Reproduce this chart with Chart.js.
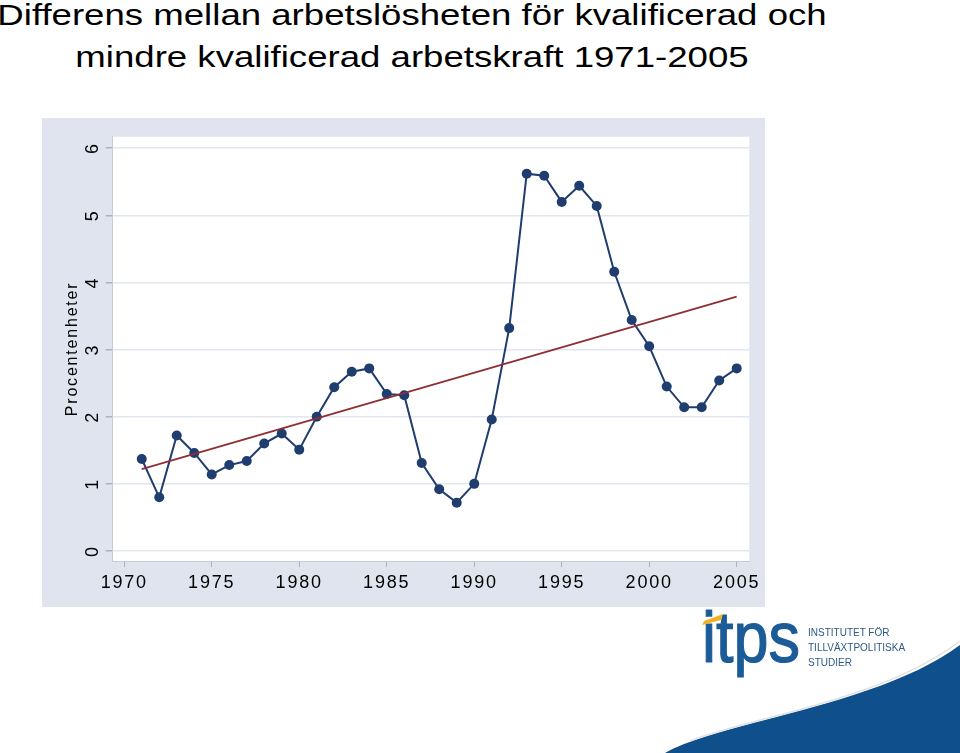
<!DOCTYPE html>
<html>
<head>
<meta charset="utf-8">
<script src="https://cdn.jsdelivr.net/npm/chart.js@4/dist/chart.umd.min.js"></script>
<style>
  html, body { margin: 0; padding: 0; background: #fff; }
  body { width: 960px; height: 753px; position: relative; overflow: hidden; font-family: 'Liberation Sans', Arial, sans-serif; }
  .title-line { position: absolute; left: 0; width: 824px; text-align: center; font-size: 30px; line-height: 36px; color: #000; white-space: nowrap; transform: scaleX(1.22); transform-origin: 412px 0; }
  #panel { position: absolute; left: 42px; top: 118px; width: 723px; height: 489px; }
  #logo { position: absolute; left: 0; top: 0; }
</style>
</head>
<body>
<div class="title-line" style="top:-3px">Differens mellan arbetslösheten för kvalificerad och</div>
<div class="title-line" style="top:39px">mindre kvalificerad arbetskraft 1971-2005</div>

<div id="panel"><canvas id="diffChart"></canvas></div>

<svg id="logo" width="960" height="753">
  <path d="M665 753 C720 722, 880 705, 960 645 L960 753 Z" fill="#0f4f8c"/>
  <path d="M690 741 C745 718, 880 702, 960 641" fill="none" stroke="#e2e2e2" stroke-width="1.5"/>
  <text x="702" y="662" font-family="Liberation Sans, Arial, sans-serif" font-size="72" fill="#1b5b97" stroke="#1b5b97" stroke-width="1.2" textLength="98" lengthAdjust="spacingAndGlyphs">itps</text>
  <path d="M702 625 L704 621 L723 614 L721 620 Z" fill="#f2b122"/>
  <g font-family="Liberation Sans, Arial, sans-serif" font-size="10" fill="#2d5a86">
    <text x="808" y="636">INSTITUTET FÖR</text>
    <text x="808" y="651">TILLVÄXTPOLITISKA</text>
    <text x="808" y="666">STUDIER</text>
  </g>
</svg>

<script>
// Data
const years = [1971, 1972, 1973, 1974, 1975, 1976, 1977, 1978, 1979, 1980,
               1981, 1982, 1983, 1984, 1985, 1986, 1987, 1988, 1989, 1990,
               1991, 1992, 1993, 1994, 1995, 1996, 1997, 1998, 1999, 2000,
               2001, 2002, 2003, 2004, 2005];
const diffValues = [1.37, 0.80, 1.72, 1.46, 1.14, 1.28, 1.34, 1.60, 1.75, 1.51,
                    2.00, 2.44, 2.67, 2.72, 2.34, 2.32, 1.31, 0.92, 0.72, 1.00,
                    1.96, 3.32, 5.62, 5.59, 5.20, 5.44, 5.14, 4.16, 3.44, 3.05,
                    2.45, 2.14, 2.14, 2.54, 2.72];
const trendYears = [1971, 2005];
const trendValues = [1.22, 3.79];
const xTickYears = [1970, 1975, 1980, 1985, 1990, 1995, 2000, 2005];
const yTickValues = [0, 1, 2, 3, 4, 5, 6];

const navy = '#1f3d6e';
const maroon = '#8e2f35';
const panelColor = '#dfe4ee';
const fontFamily = "'Liberation Sans', Arial, sans-serif";

// Bakgrund: grå panel + vit plotyta
const backgroundPlugin = {
    id: 'panelBackground',
    beforeDraw(chart) {
        const { ctx, chartArea } = chart;
        ctx.save();
        ctx.fillStyle = panelColor;
        ctx.fillRect(0, 0, chart.width, chart.height);
        ctx.fillStyle = '#ffffff';
        ctx.fillRect(chartArea.left, chartArea.top, chartArea.right - chartArea.left, chartArea.bottom - chartArea.top);
        ctx.restore();
        // lite bredare axeltext
        ctx.letterSpacing = '1.8px';
    },
    beforeDatasetsDraw(chart) {
        chart.ctx.letterSpacing = '0px';
    }
};

function initChart() {
    const ctx = document.getElementById('diffChart').getContext('2d');
    new Chart(ctx, {
        type: 'line',
        data: {
            datasets: [{
                label: 'Trend',
                data: trendYears.map((y, i) => ({ x: y, y: trendValues[i] })),
                borderColor: maroon,
                borderWidth: 1.8,
                pointRadius: 0,
                order: 0
            }, {
                label: 'Differens',
                data: years.map((y, i) => ({ x: y, y: diffValues[i] })),
                borderColor: navy,
                backgroundColor: navy,
                borderWidth: 2,
                pointRadius: 5,
                pointBackgroundColor: navy,
                pointBorderWidth: 0,
                tension: 0,
                order: 1
            }]
        },
        options: {
            responsive: true,
            maintainAspectRatio: false,
            animation: false,
            devicePixelRatio: 1,
            layout: { padding: { left: 0, top: 17.7, right: 15.7, bottom: 0 } },
            plugins: {
                legend: { display: false },
                tooltip: { enabled: false }
            },
            scales: {
                x: {
                    type: 'linear',
                    min: 1969.34,
                    max: 2005.72,
                    afterBuildTicks: s => { s.ticks = xTickYears.map(v => ({ value: v })); },
                    afterFit: s => { s.height = 46; },
                    ticks: {
                        autoSkip: false,
                        maxRotation: 0,
                        padding: 5,
                        color: '#000',
                        font: { family: fontFamily, size: 18 },
                        callback: v => String(v)
                    },
                    grid: { drawOnChartArea: false, tickLength: 6, color: '#aab2bf', lineWidth: 1 },
                    border: { color: '#c6ccd7', width: 1 }
                },
                y: {
                    type: 'linear',
                    min: -0.149,
                    max: 6.17,
                    afterBuildTicks: s => { s.ticks = yTickValues.map(v => ({ value: v })); },
                    afterFit: s => { s.width = 70.7; },
                    ticks: {
                        minRotation: 90,
                        maxRotation: 90,
                        crossAlign: 'center',
                        padding: 8,
                        color: '#000',
                        font: { family: fontFamily, size: 18 },
                        callback: v => String(v)
                    },
                    grid: { color: '#e1e6ef', tickColor: '#aab2bf', tickLength: 7, lineWidth: 1.5 },
                    border: { color: '#c6ccd7', width: 1 },
                    title: {
                        display: true,
                        text: 'Procentenheter',
                        color: '#000',
                        font: { family: fontFamily, size: 16 },
                        padding: { top: 21, bottom: 0 }
                    }
                }
            }
        },
        plugins: [backgroundPlugin]
    });
}

document.addEventListener('DOMContentLoaded', initChart);
</script>
</body>
</html>
